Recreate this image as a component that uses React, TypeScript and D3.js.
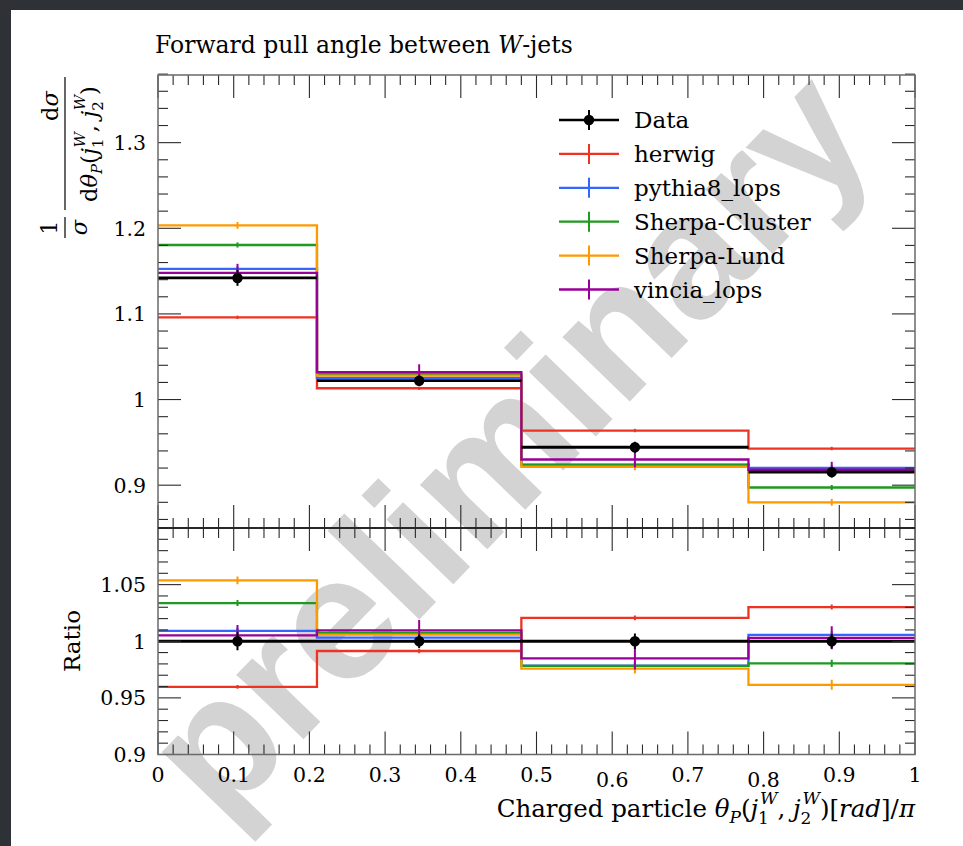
import React from "react";
import * as d3 from "d3";

// Bin edges in units of theta_P / pi
const binEdges = [0, 0.21, 0.48, 0.78, 1.0];

// Normalised distributions per bin
const dataValues = [1.142, 1.022, 0.9443, 0.9152];
const dataErrors = [0.0092, 0.006, 0.0064, 0.0058];
const herwigValues = [1.096, 1.0132, 0.9638, 0.9428];
const herwigErrors = [0.002, 0.002, 0.002, 0.002];
const pythiaValues = [1.1525, 1.0253, 0.924, 0.9203];
const pythiaErrors = [0.003, 0.003, 0.003, 0.003];
const sherpaClusterValues = [1.1805, 1.0295, 0.9238, 0.8973];
const sherpaClusterErrors = [0.003, 0.003, 0.003, 0.003];
const sherpaLundValues = [1.2034, 1.028, 0.9215, 0.88];
const sherpaLundErrors = [0.004, 0.004, 0.004, 0.004];
const vinciaValues = [1.148, 1.0319, 0.93, 0.918];
const vinciaErrors = [0.0105, 0.0093, 0.0092, 0.0093];

const seriesNames = ["herwig", "pythia8_lops", "Sherpa-Cluster", "Sherpa-Lund", "vincia_lops"];
const seriesColors = ["#ee3322", "#3366ff", "#1f991f", "#ff9900", "#990099"];
const seriesValues = [herwigValues, pythiaValues, sherpaClusterValues, sherpaLundValues, vinciaValues];
const seriesErrors = [herwigErrors, pythiaErrors, sherpaClusterErrors, sherpaLundErrors, vinciaErrors];

const xTickValues = [0, 0.1, 0.2, 0.3, 0.4, 0.5, 0.6, 0.7, 0.8, 0.9, 1];
const mainYTickValues = [0.9, 1, 1.1, 1.2, 1.3];
const ratioYTickValues = [0.9, 0.95, 1, 1.05];

const W = 963;
const H = 846;
const SERIF = "'DejaVu Serif', 'Liberation Serif', serif";

const x = d3.scaleLinear().domain([0, 1]).range([158, 915]);
const yMain = d3.scaleLinear().domain([0.85, 1.379]).range([528, 75]);
const yRatio = d3.scaleLinear().domain([0.9, 1.1]).range([754.5, 528]);

const MAJOR = 23;
const MINOR = 10;
const TICK_COLOR = "#2a2a2a";

const round = (v: number) => Math.round(v * 10000) / 10000;
const fmt = (v: number) => String(+v.toFixed(2));
const centres = binEdges.slice(0, -1).map((e, i) => (e + binEdges[i + 1]) / 2);

function stepPath(vals: number[], y: d3.ScaleLinear<number, number>) {
  const pts: [number, number][] = binEdges
    .slice(0, -1)
    .map((e, i) => [e, vals[i]] as [number, number]);
  pts.push([binEdges[binEdges.length - 1], vals[vals.length - 1]]);
  return (
    d3
      .line<[number, number]>()
      .x((d) => x(d[0]))
      .y((d) => y(d[1]))
      .curve(d3.curveStepAfter)(pts) || ""
  );
}

function Ticks({
  y,
  top,
  bottom,
  minorY,
  majorY,
}: {
  y: d3.ScaleLinear<number, number>;
  top: number;
  bottom: number;
  minorY: number[];
  majorY: number[];
}) {
  const xMinor = d3.range(0, 51).map((i) => round(i * 0.02));
  const xMajor = d3.range(0, 11).map((i) => round(i * 0.1));
  const x0 = x(0);
  const x1 = x(1);
  const out: JSX.Element[] = [];
  xMinor.forEach((v, i) => {
    const isMajor = xMajor.some((m) => Math.abs(m - v) < 1e-6);
    const len = isMajor ? MAJOR : MINOR;
    out.push(<line key={`xt${i}`} x1={x(v)} x2={x(v)} y1={top} y2={top + len} />);
    out.push(<line key={`xb${i}`} x1={x(v)} x2={x(v)} y1={bottom} y2={bottom - len} />);
  });
  minorY.forEach((v, i) => {
    out.push(<line key={`yl${i}`} x1={x0} x2={x0 + MINOR} y1={y(v)} y2={y(v)} />);
    out.push(<line key={`yr${i}`} x1={x1} x2={x1 - MINOR} y1={y(v)} y2={y(v)} />);
  });
  majorY.forEach((v, i) => {
    out.push(<line key={`Yl${i}`} x1={x0} x2={x0 + MAJOR} y1={y(v)} y2={y(v)} />);
    out.push(<line key={`Yr${i}`} x1={x1} x2={x1 - MAJOR} y1={y(v)} y2={y(v)} />);
  });
  return (
    <g stroke={TICK_COLOR} strokeWidth={1.1}>
      {out}
    </g>
  );
}

function Histograms({
  y,
  ratio,
  clipId,
}: {
  y: d3.ScaleLinear<number, number>;
  ratio: boolean;
  clipId: string;
}) {
  const scaled = (vals: number[]) => (ratio ? vals.map((v, i) => v / dataValues[i]) : vals);
  const scaledErr = (errs: number[]) => (ratio ? errs.map((e, i) => e / dataValues[i]) : errs);
  const dv = scaled(dataValues);
  const de = scaledErr(dataErrors);
  return (
    <g clipPath={`url(#${clipId})`}>
      {seriesValues.map((vals, s) => {
        const v = scaled(vals);
        const e = scaledErr(seriesErrors[s]);
        return (
          <g key={s} stroke={seriesColors[s]} fill="none" strokeWidth={2.3}>
            <path d={stepPath(v, y)} />
            {centres.map((c, i) => (
              <line key={i} x1={x(c)} x2={x(c)} y1={y(v[i] - e[i])} y2={y(v[i] + e[i])} strokeWidth={2} />
            ))}
          </g>
        );
      })}
      <g stroke="#000" strokeWidth={2.8}>
        {centres.map((c, i) => (
          <g key={i}>
            <line x1={x(binEdges[i])} x2={x(binEdges[i + 1])} y1={y(dv[i])} y2={y(dv[i])} />
            <line x1={x(c)} x2={x(c)} y1={y(dv[i] - de[i])} y2={y(dv[i] + de[i])} strokeWidth={2} />
            <circle cx={x(c)} cy={y(dv[i])} r={5.2} fill="#000" stroke="none" />
          </g>
        ))}
      </g>
    </g>
  );
}

export default function App() {
  const mainMinor = d3
    .range(0, 27)
    .map((i) => round(0.86 + i * 0.02))
    .filter((v) => !mainYTickValues.some((m) => Math.abs(m - v) < 1e-6));
  const ratioMinor = d3
    .range(0, 20)
    .map((i) => round(0.91 + i * 0.01))
    .filter((v) => !ratioYTickValues.some((m) => Math.abs(m - v) < 1e-6));

  const legendX0 = 559;
  const legendX1 = 619;
  const legendMid = (legendX0 + legendX1) / 2;
  const legendTextX = 634;
  const legendY0 = 120;
  const legendStep = 33.9;

  return (
    <svg
      width={W}
      height={H}
      viewBox={`0 0 ${W} ${H}`}
      style={{ position: "absolute", left: 0, top: 0, display: "block" }}
      fontFamily={SERIF}
    >
      <defs>
        <clipPath id="clipMain">
          <rect x={x(0)} y={yMain(1.379)} width={x(1) - x(0)} height={yMain(0.85) - yMain(1.379)} />
        </clipPath>
        <clipPath id="clipRatio">
          <rect x={x(0)} y={yRatio(1.1)} width={x(1) - x(0)} height={yRatio(0.9) - yRatio(1.1)} />
        </clipPath>
      </defs>
      <rect x={0} y={0} width={W} height={H} fill="#fff" />
      <rect x={0} y={0} width={W} height={10} fill="#2e3136" />
      <rect x={0} y={0} width={11} height={H} fill="#2e3136" />

      {/* watermark */}
      <text
        transform="translate(550,484) rotate(-46)"
        textAnchor="middle"
        fontFamily="'Liberation Sans', Arial, sans-serif"
        fontWeight="bold"
        fontSize={176}
        fill="#d3d3d3"
      >
        preliminary
      </text>

      {/* title */}
      <text x={155} y={53} fontSize={23.5}>
        Forward pull angle between <tspan fontStyle="italic">W</tspan>-jets
      </text>

      {/* main panel */}
      <Histograms y={yMain} ratio={false} clipId="clipMain" />
      <Ticks y={yMain} top={75} bottom={528} minorY={mainMinor} majorY={mainYTickValues} />
      <rect x={x(0)} y={75} width={x(1) - x(0)} height={528 - 75} fill="none" stroke="#6a6a6a" strokeWidth={1.5} />
      {mainYTickValues.map((v) => (
        <text key={v} x={146} y={yMain(v)} dy="0.36em" textAnchor="end" fontSize={20.5}>
          {fmt(v)}
        </text>
      ))}

      {/* ratio panel */}
      <Histograms y={yRatio} ratio={true} clipId="clipRatio" />
      <Ticks y={yRatio} top={528} bottom={754.5} minorY={ratioMinor} majorY={ratioYTickValues} />
      <rect x={x(0)} y={528} width={x(1) - x(0)} height={754.5 - 528} fill="none" stroke="#6a6a6a" strokeWidth={1.5} />
      <line x1={x(0)} x2={x(1)} y1={528} y2={528} stroke="#111" strokeWidth={1.4} />
      {ratioYTickValues.map((v) => (
        <text key={v} x={146} y={yRatio(v)} dy="0.36em" textAnchor="end" fontSize={20.5}>
          {fmt(v)}
        </text>
      ))}

      {/* x tick labels */}
      {xTickValues.map((v) => {
        const s = fmt(v);
        const drop = /[68]/.test(s) ? 5 : 0;
        return (
          <text key={v} x={x(v)} y={782 + drop} textAnchor="middle" fontSize={20.5}>
            {s}
          </text>
        );
      })}

      {/* x axis title */}
      <text x={915} y={817} textAnchor="end" fontSize={24.5}>
        Charged particle <tspan fontStyle="italic">θ</tspan>
        <tspan fontStyle="italic" fontSize={17} dy={6}>P</tspan>
        <tspan dy={-6}>(</tspan>
        <tspan fontStyle="italic">j</tspan>
        <tspan fontSize={17} dy={7}>1</tspan>
        <tspan fontSize={17} fontStyle="italic" dx={-9} dy={-20}>W</tspan>
        <tspan dy={13}>, </tspan>
        <tspan fontStyle="italic">j</tspan>
        <tspan fontSize={17} dy={7}>2</tspan>
        <tspan fontSize={17} fontStyle="italic" dx={-9} dy={-20}>W</tspan>
        <tspan dy={13}>)[</tspan>
        <tspan fontStyle="italic">rad</tspan>]/<tspan fontStyle="italic">π</tspan>
      </text>

      {/* y axis title, main */}
      <g transform="translate(65,238) rotate(-90)" fontSize={22.5}>
        <line x1={0} x2={21} y1={0} y2={0} stroke="#000" strokeWidth={1.2} />
        <text x={10.5} y={-8} textAnchor="middle">1</text>
        <text x={10.5} y={22} textAnchor="middle" fontStyle="italic">σ</text>
        <line x1={28} x2={161} y1={0} y2={0} stroke="#000" strokeWidth={1.2} />
        <text x={132} y={-7} textAnchor="middle">
          d<tspan fontStyle="italic">σ</tspan>
        </text>
        <text x={94} y={32} textAnchor="middle">
          d<tspan fontStyle="italic">θ</tspan>
          <tspan fontStyle="italic" fontSize={15} dy={5}>P</tspan>
          <tspan dy={-5}>(</tspan>
          <tspan fontStyle="italic">j</tspan>
          <tspan fontSize={15} dy={6}>1</tspan>
          <tspan fontSize={15} fontStyle="italic" dx={-9} dy={-18}>W</tspan>
          <tspan dy={12}>, </tspan>
          <tspan fontStyle="italic">j</tspan>
          <tspan fontSize={15} dy={6}>2</tspan>
          <tspan fontSize={15} fontStyle="italic" dx={-9} dy={-18}>W</tspan>
          <tspan dy={12}>)</tspan>
        </text>
      </g>

      {/* y axis title, ratio */}
      <text transform="translate(80,641) rotate(-90)" textAnchor="middle" fontSize={23}>
        Ratio
      </text>

      {/* legend */}
      <g>
        <g stroke="#000" strokeWidth={2.6}>
          <line x1={legendX0} x2={legendX1} y1={legendY0} y2={legendY0} />
          <line x1={legendMid} x2={legendMid} y1={legendY0 - 10} y2={legendY0 + 10} strokeWidth={2} />
          <circle cx={legendMid} cy={legendY0} r={5.2} fill="#000" stroke="none" />
        </g>
        <text x={legendTextX} y={legendY0} dy="0.35em" fontSize={23}>Data</text>
        {seriesNames.map((name, i) => {
          const ly = legendY0 + (i + 1) * legendStep;
          return (
            <g key={name}>
              <g stroke={seriesColors[i]} strokeWidth={2.3}>
                <line x1={legendX0} x2={legendX1} y1={ly} y2={ly} />
                <line x1={legendMid} x2={legendMid} y1={ly - 10} y2={ly + 10} strokeWidth={2} />
              </g>
              <text x={legendTextX} y={ly} dy="0.35em" fontSize={23}>{name}</text>
            </g>
          );
        })}
      </g>
    </svg>
  );
}
